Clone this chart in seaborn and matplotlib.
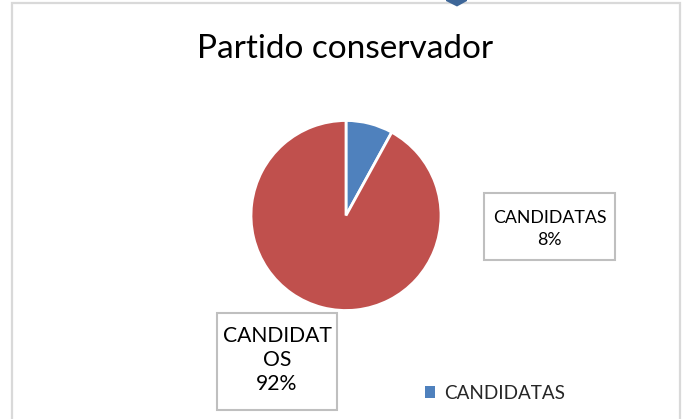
import matplotlib
matplotlib.use("Agg")
import matplotlib.pyplot as plt
import seaborn as sns
from matplotlib.patches import Rectangle, Polygon

# ---- data ----
categories = ["CANDIDATAS", "CANDIDATOS"]
values = [8, 92]
label_lines = ["CANDIDATAS", "CANDIDAT\nOS"]
title = "Partido conservador"

sns.set_theme(style="white")
plt.rcParams["font.family"] = ["Lato", "DejaVu Sans"]

W, H = 686, 419
fig = plt.figure(figsize=(W / 100, H / 100), dpi=100)
fig.patch.set_facecolor("white")


def fx(x):
    return x / W


def fy(y):
    return 1 - y / H


colors = sns.color_palette(["#4F81BD", "#C0504D"])

# chart area border
fig.patches.append(Rectangle((fx(12), fy(425)), fx(680) - fx(12), fy(3) - fy(425),
                             transform=fig.transFigure, fill=False,
                             edgecolor="#D9D9D9", linewidth=1.6, zorder=0))
# partial dark-blue shape at the top edge
fig.patches.append(Polygon([(fx(446), fy(-1)), (fx(467), fy(-1)), (fx(467), fy(1)),
                            (fx(457), fy(6.5)), (fx(446), fy(1))],
                           closed=True, transform=fig.transFigure,
                           facecolor="#3D6698", edgecolor="none", zorder=5))

# pie axes: centre (346, 215.5), radius 95 px
cx, cy, r = 346, 215.5, 95
ax = fig.add_axes([fx(cx - r), fy(cy + r), (2 * r) / W, (2 * r) / H])
wedges, _ = ax.pie(values, colors=colors, startangle=90, counterclock=False,
                   wedgeprops=dict(edgecolor="white", linewidth=2))
ax.set_xlim(-1, 1)
ax.set_ylim(-1, 1)
ax.set_aspect("equal")
ax.axis("off")

total = sum(values)
pcts = [round(v / total * 100) for v in values]

# title
fig.text(fx(345), fy(58), title, ha="center", va="baseline",
         fontsize=24, color="black")

# data label boxes: (x0, y0, x1, y1, text centre y, fontsize, linespacing)
boxes = [(484, 193, 615, 260, 229, 12.8, 1.5),
         (217, 313, 337, 410, 360, 15.2, 1.25)]
for (x0, y0, x1, y1, tyc, fs, ls), lab, p in zip(boxes, label_lines, pcts):
    fig.patches.append(Rectangle((fx(x0), fy(y1)), fx(x1) - fx(x0), fy(y0) - fy(y1),
                                 transform=fig.transFigure, facecolor="white",
                                 edgecolor="#BFBFBF", linewidth=1.5, zorder=3))
    fig.text(fx((x0 + x1) / 2), fy(tyc), f"{lab}\n{p}%",
             ha="center", va="center", fontsize=fs, linespacing=ls,
             color="black", zorder=4)

# legend (only first entry visible)
leg = fig.legend(handles=[wedges[0]], labels=[categories[0]],
                 loc="center left", bbox_to_anchor=(fx(425), fy(393)),
                 frameon=False, fontsize=13.6, handlelength=0.55, handleheight=0.55,
                 handletextpad=0.45, borderpad=0, borderaxespad=0)
for h in leg.legend_handles:
    h.set_edgecolor("none")

fig.savefig("out.png", dpi=100, facecolor="white")
